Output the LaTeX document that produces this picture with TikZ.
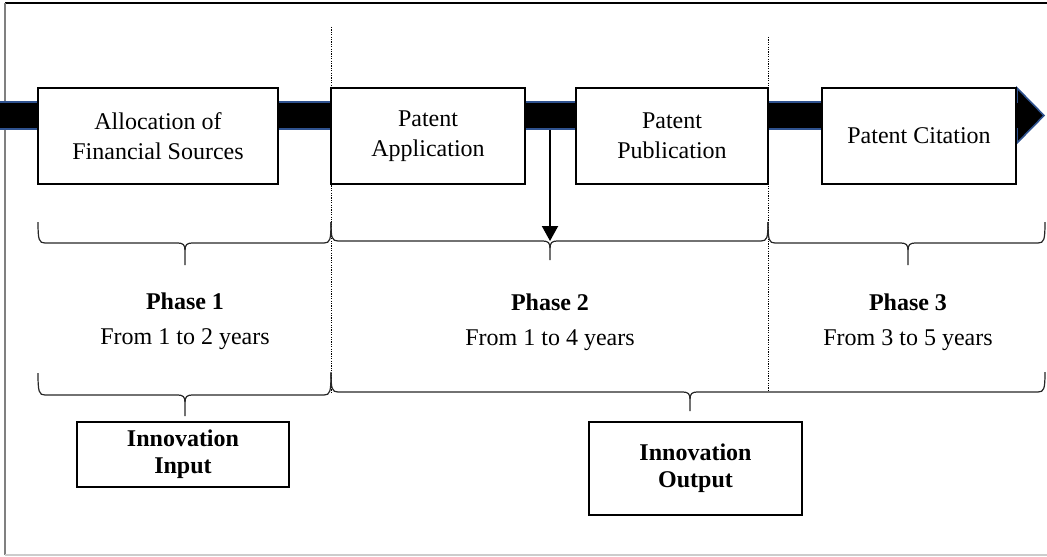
\documentclass[tikz,border=0pt]{standalone}
\usepackage{fontspec}
\setmainfont{Liberation Serif}
\usetikzlibrary{arrows.meta}
\definecolor{barblue}{RGB}{47,82,143}

% Curly brace opening downwards: x-left, x-right, x-tip, y-ends, y-line, y-tip
\newcommand\phasebrace[6]{%
  \draw[brc] (#1,#4) .. controls (#1,{#5-3}) and ({#1+1},#5) .. ({#1+7},#5)
    -- ({#3-7},#5) .. controls ({#3-2},#5) and (#3,{#5+2}) .. (#3,{#5+7})
    -- (#3,#6);
  \draw[brc] (#2,#4) .. controls (#2,{#5-3}) and ({#2-1},#5) .. ({#2-7},#5)
    -- ({#3+7},#5) .. controls ({#3+2},#5) and (#3,{#5+2}) .. (#3,{#5+7});
}

\begin{document}
\begin{tikzpicture}[x=0.5pt,y=-0.5pt,
  stage/.style={draw=black, line width=1pt, fill=white, align=center,
    minimum height=48pt, inner sep=2pt,
    font=\fontsize{12}{15}\selectfont},
  result/.style={draw=black, line width=0.8pt, fill=white, align=center,
    inner sep=2pt, font=\fontsize{12}{13.5}\selectfont\bfseries},
  phase/.style={align=center, font=\fontsize{12}{17.5}\selectfont},
  brc/.style={line width=0.6pt, black!85},
  sep/.style={line width=0.4pt, dash pattern=on 0.6pt off 0.6pt}]

\useasboundingbox (0,0) rectangle (1047,556);

% frame
\draw[black, line width=1pt] (5,3) -- (1047,3);
\draw[gray, line width=1.2pt] (5,3) -- (5,555);
\draw[black!20, line width=0.6pt] (5,555) -- (1047,555);

% time line arrow
\filldraw[fill=black, draw=barblue, line width=0.8pt]
  (-2,102) -- (1017,102) -- (1017,88) -- (1044,115.5) -- (1017,143)
  -- (1017,129) -- (-2,129) -- cycle;

% phase separators
\draw[sep] (331,27) -- (331,392);
\draw[sep] (768,37) -- (768,392);

% stages
\node[stage, minimum width=120pt] (alloc) at (158,136) {Allocation of\\Financial Sources};
\node[stage, minimum width=97pt] (appl) at (428,136) {Patent\\Application};
\node[stage, minimum width=96pt] (publ) at (672,136) {Patent\\Publication};
\node[stage, minimum width=97pt] (cite) at (919,136) {Patent Citation};

% marker dropping from the time line
\coordinate (drop) at (550,129.5);
\coordinate (land) at (550,241);
\draw[line width=1pt, -{Triangle[length=7.5pt,width=8pt]}] (drop) -- (land);

% upper braces
\phasebrace{38}{331}{185}{222}{243}{265}
\phasebrace{331}{768}{550}{222}{241}{260}
\phasebrace{768}{1045}{908}{222}{243}{265}

% phase labels
\node[phase] (p1) at (185,321) {\textbf{Phase 1}\\From 1 to 2 years};
\node[phase] (p2) at (550,322) {\textbf{Phase 2}\\From 1 to 4 years};
\node[phase] (p3) at (908,322) {\textbf{Phase 3}\\From 3 to 5 years};

% lower braces
\phasebrace{38}{331}{185}{373}{395}{416}
\phasebrace{331}{1045}{690}{372}{392}{411}

% results
\node[result, minimum width=106pt, minimum height=32.5pt] (inp) at (183,454.5) {Innovation\\Input};
\node[result, minimum width=106.5pt, minimum height=46.5pt] (outp) at (695.5,468.5) {Innovation\\Output};

\end{tikzpicture}
\end{document}
